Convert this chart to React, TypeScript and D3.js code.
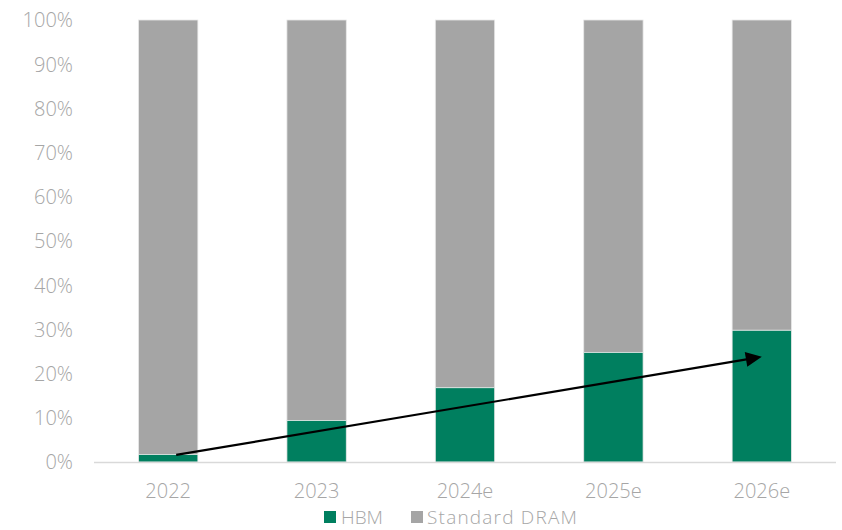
import React from "react";
import * as d3 from "d3";

const categories = ["2022", "2023", "2024e", "2025e", "2026e"];
const hbmShare = [0.017, 0.094, 0.168, 0.248, 0.298];
const seriesNames = ["HBM", "Standard DRAM"];
const yTicks = [0, 0.1, 0.2, 0.3, 0.4, 0.5, 0.6, 0.7, 0.8, 0.9, 1.0];
const arrowFrom = { cat: "2022", value: 0.016 };
const arrowTo = { cat: "2026e", value: 0.238 };

const W = 842, H = 530;
const M = { left: 94, right: 6, top: 20, bottom: 68 };
const GREEN = "#007F5F";
const GRAY = "#A5A5A5";
const TEXT = "#A6A6A6";
const FONT = "'Open Sans', 'Noto Sans', sans-serif";
const FS = 20;

export default function App() {
  const x = d3.scaleBand<string>().domain(categories).range([M.left, W - M.right]).paddingInner(0.6).paddingOuter(0.3);
  const y = d3.scaleLinear().domain([0, 1]).range([H - M.bottom, M.top]);
  const bw = x.bandwidth();
  const fmt = d3.format(".0%");
  const ax1 = (x(arrowFrom.cat) as number) + bw / 2 + 8;
  const ay1 = y(arrowFrom.value);
  const ax2 = (x(arrowTo.cat) as number) + bw / 2;
  const ay2 = y(arrowTo.value);
  const ang = Math.atan2(ay2 - ay1, ax2 - ax1);
  const headL = 16, headW = 7.5;
  const bx = ax2 - headL * Math.cos(ang), by = ay2 - headL * Math.sin(ang);
  const px = -Math.sin(ang), py = Math.cos(ang);
  const head = `M${ax2},${ay2} L${bx + headW * px},${by + headW * py} L${bx - headW * px},${by - headW * py} Z`;
  const legendBase = H - 6;
  return (
    <svg width={W} height={H} style={{ position: "absolute", left: 0, top: 0, background: "#fff" }} fontFamily={FONT} fontWeight={300}>
      {yTicks.map((t) => (
        <text key={t} x={73} y={y(t) + 7.3} textAnchor="end" fontSize={FS} fill={TEXT}>
          {fmt(t)}
        </text>
      ))}
      {categories.map((c, i) => {
        const x0 = x(c) as number;
        return (
          <g key={c}>
            <rect x={x0} y={y(1)} width={bw} height={y(hbmShare[i]) - y(1)} fill={GRAY} stroke="#E8E8E8" strokeWidth={0.8} />
            <rect x={x0} y={y(hbmShare[i])} width={bw} height={y(0) - y(hbmShare[i])} fill={GREEN} stroke="#E8E8E8" strokeWidth={0.8} />
            <text x={x0 + bw / 2} y={y(0) + 35.5} textAnchor="middle" fontSize={FS} fill={TEXT}>
              {c}
            </text>
          </g>
        );
      })}
      <line x1={M.left} x2={W - M.right} y1={y(0) + 0.5} y2={y(0) + 0.5} stroke="#D9D9D9" strokeWidth={1.5} />
      <line x1={ax1} y1={ay1} x2={bx + 2 * Math.cos(ang)} y2={by + 2 * Math.sin(ang)} stroke="#000" strokeWidth={2.2} />
      <path d={head} fill="#000" />
      <g>
        <rect x={324} y={legendBase - 13} width={12} height={12} fill={GREEN} />
        <text x={341} y={legendBase} fontSize={19} fill={TEXT}>{seriesNames[0]}</text>
        <rect x={411} y={legendBase - 13} width={12} height={12} fill={GRAY} />
        <text x={427} y={legendBase} fontSize={19} fill={TEXT} textLength={150} lengthAdjust="spacing">{seriesNames[1]}</text>
      </g>
    </svg>
  );
}
